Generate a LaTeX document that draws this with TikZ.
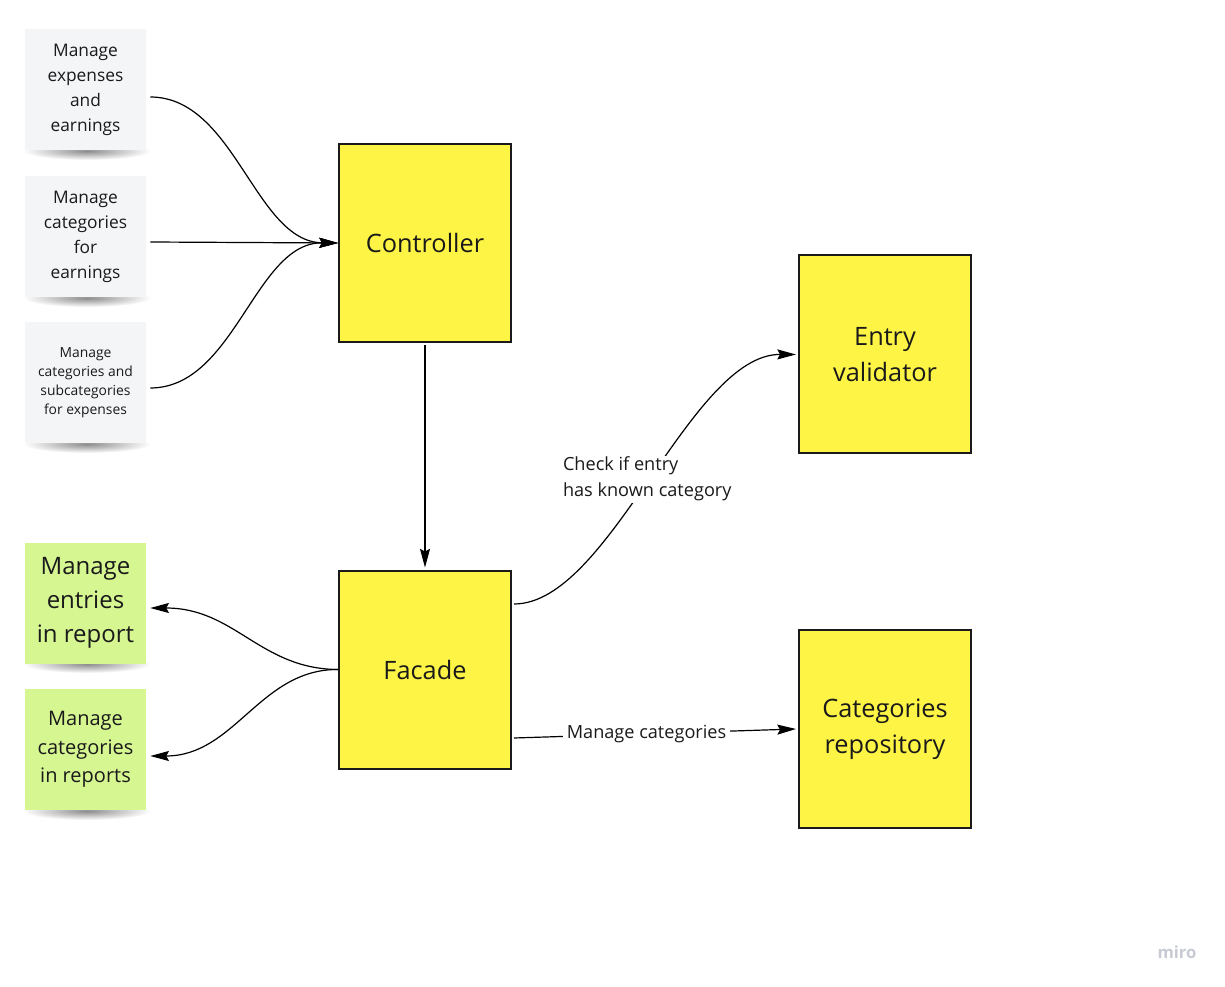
\documentclass[tikz,border=0pt]{standalone}
\usepackage{fontspec}
\setmainfont{Open Sans}
\usetikzlibrary{arrows.meta,calc}
\definecolor{stickyyellow}{HTML}{FEF445}
\definecolor{stickygray}{HTML}{F4F5F7}
\definecolor{stickygreen}{HTML}{D6F692}
\definecolor{edgeblack}{HTML}{1A1A1A}
\definecolor{mirogray}{HTML}{C7CAD3}
\begin{document}
\begin{tikzpicture}[x=0.75pt,y=-0.75pt,
  box/.style={draw=edgeblack, line width=1.5pt, fill=stickyyellow, minimum width=129pt, minimum height=148.5pt, inner sep=0pt, align=center, font=\fontsize{19}{27}\selectfont, text=edgeblack},
  sticky/.style={minimum width=90.75pt, minimum height=90.75pt, inner sep=0pt, align=center, text=edgeblack},
  graysticky/.style={sticky, fill=stickygray},
  greensticky/.style={sticky, fill=stickygreen},
  conn/.style={line width=0.9pt, draw=black, -{Stealth[length=14pt,width=7.5pt,inset=2pt]}},
  lbl/.style={fill=white, inner xsep=2.5pt, inner ysep=1pt, align=left, font=\fontsize{13.6}{19.5}\selectfont, text=edgeblack},
  stickyshadow/.style={inner color=black!45, outer color=white},
]
\useasboundingbox (0,0) rectangle (1225,987);
% shadows
\foreach \yy in {150,297,443,663,810} {
  \shade[stickyshadow] (87,\yy+1) ellipse [x radius=64, y radius=9];
}
% stickies
\node[graysticky, font=\fontsize{13}{18.75}\selectfont] (s1) at (85.5,89.5) {Manage\\expenses\\and\\earnings};
\node[graysticky, font=\fontsize{13}{18.75}\selectfont] (s2) at (85.5,236.5) {Manage\\categories\\for\\earnings};
\node[graysticky, font=\fontsize{10.4}{14.25}\selectfont] (s3) at (85.5,382.5) {Manage\\categories and\\subcategories\\for expenses};
\node[greensticky, font=\fontsize{18}{25.5}\selectfont] (g1) at (85.5,603) {Manage\\entries\\in report};
\node[greensticky, font=\fontsize{15}{21.4}\selectfont] (g2) at (85.5,749.5) {Manage\\categories\\in reports};
% boxes
\node[box] (ctrl) at (425,243) {Controller};
\node[box] (facade) at (425,669.5) {Facade};
\node[box] (valid) at (885,354.5) {Entry\\validator};
\node[box] (repo) at (885,729) {Categories\\repository};
% connectors
\draw[conn] ($(s1.east)+(4,7.5)$) .. controls (235,97) and (255,242) .. (ctrl.west);
\draw[conn] ($(s2.east)+(4,5.5)$) -- (ctrl.west);
\draw[conn] ($(s3.east)+(4,5.5)$) .. controls (235,388) and (255,242) .. (ctrl.west);
\draw[conn] ($(ctrl.south)+(0,2)$) -- ($(facade.north)+(0,-2)$);
\draw[conn] (facade.west) .. controls (260,669) and (235,608) .. ($(g1.east)+(4,5)$);
\draw[conn] (facade.west) .. controls (260,669) and (235,756) .. ($(g2.east)+(4,6.5)$);
\draw[conn] ($(facade.east)+(2,-65.5)$) .. controls (610,604) and (690,354) .. ($(valid.west)+(-2,0)$)
  node[lbl, pos=0.5, xshift=-3pt] {Check if entry\\has known category};
\draw[conn] ($(facade.east)+(2,68.5)$) -- ($(repo.west)+(-2,0)$)
  node[lbl, pos=0.47, align=center] {Manage categories};
% logo
\node[text=mirogray, font=\fontsize{12.5}{14}\selectfont\bfseries] (logo) at (1177,952) {miro};
\end{tikzpicture}
\end{document}
